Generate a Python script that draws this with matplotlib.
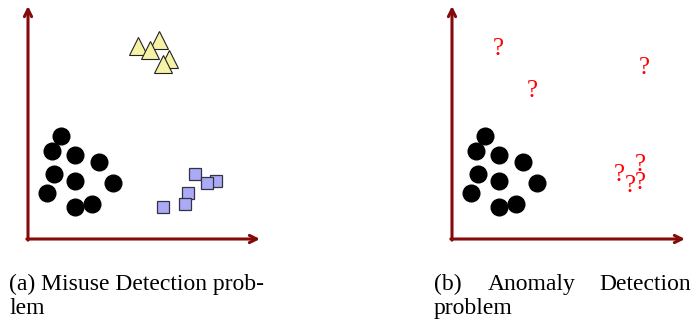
import matplotlib
matplotlib.use('Agg')
import matplotlib.pyplot as plt
from matplotlib.transforms import offset_copy

# shared cluster of normal points (both panels)
circle_x = [1.42, 1.03, 2.03, 3.06, 1.12, 2.03, 3.66, 0.82, 2.03, 2.76]
circle_y = [4.40, 3.79, 3.62, 3.32, 2.80, 2.50, 2.41, 1.98, 1.38, 1.51]

# known attack class 1 (triangles)
tri_x = [4.74, 5.65, 5.26, 6.08, 5.82]
tri_y = [8.28, 8.55, 8.10, 7.72, 7.50]

# known attack class 2 (squares)
sq_x = [7.20, 8.10, 7.72, 6.90, 6.77, 5.82]
sq_y = [2.80, 2.50, 2.41, 1.98, 1.51, 1.38]

# unknown points in the anomaly panel
q_x = [1.98, 3.45, 8.23, 7.16, 7.63, 8.06, 8.06]
q_y = [8.23, 6.42, 7.41, 2.84, 2.37, 3.28, 2.50]

axis_color = '#870a0a'
serif = ['Liberation Serif', 'DejaVu Serif']

fig = plt.figure(figsize=(6.92, 3.2), dpi=100)


def draw_axes(ax):
    ax.set_xlim(0, 10)
    ax.set_ylim(0, 10)
    ax.axis('off')
    arrow = dict(arrowstyle='->', lw=2.2, color=axis_color,
                 shrinkA=0, shrinkB=0, mutation_scale=13)
    ax.annotate('', xy=(10, 0), xytext=(-0.05, 0), arrowprops=arrow,
                annotation_clip=False)
    ax.annotate('', xy=(0, 10), xytext=(0, -0.05), arrowprops=arrow,
                annotation_clip=False)


# (a) misuse detection
ax1 = fig.add_axes([28 / 692, 81 / 320, 232 / 692, 233 / 320])
draw_axes(ax1)
ax1.plot(circle_x, circle_y, 'o', color='black', ms=12, clip_on=False)
for x, y in zip(tri_x, tri_y):
    ax1.plot(x, y, '^', ms=13, mfc='#f6f2a6', mec='#222222', mew=0.8,
             clip_on=False)
for x, y in zip(sq_x, sq_y):
    ax1.plot(x, y, 's', ms=8.5, mfc='#aaaaf6', mec='#333344', mew=0.9,
             clip_on=False)

# (b) anomaly detection
ax2 = fig.add_axes([452 / 692, 81 / 320, 233 / 692, 233 / 320])
draw_axes(ax2)
ax2.plot(circle_x, circle_y, 'o', color='black', ms=12, clip_on=False)
q_trans = offset_copy(ax2.transData, fig=fig, y=-2, units='dots')
for x, y in zip(q_x, q_y):
    ax2.text(x, y, '?', color='red', fontsize=18, family=serif,
             ha='center', va='center', transform=q_trans)

# captions
cap = dict(fontsize=17, family=serif, va='baseline')
fig.text(9 / 692, 1 - 290 / 320, '(a) Misuse Detection prob-', **cap)
fig.text(9 / 692, 1 - 314 / 320, 'lem', **cap)
fig.text(434 / 692, 1 - 290 / 320, '(b)', **cap)
fig.text(488 / 692, 1 - 290 / 320, 'Anomaly', **cap)
fig.text(691 / 692, 1 - 290 / 320, 'Detection', ha='right', **cap)
fig.text(434 / 692, 1 - 314 / 320, 'problem', **cap)

fig.savefig('out.png', dpi=100)
